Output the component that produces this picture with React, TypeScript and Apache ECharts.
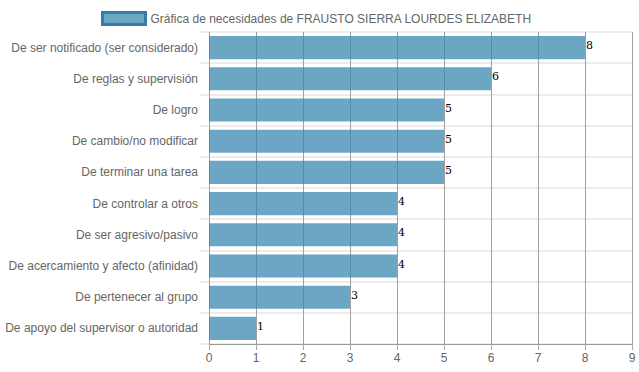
import React, { useEffect, useRef } from "react";
import * as echarts from "echarts";

const categories = [
  "De ser notificado (ser considerado)",
  "De reglas y supervisión",
  "De logro",
  "De cambio/no modificar",
  "De terminar una tarea",
  "De controlar a otros",
  "De ser agresivo/pasivo",
  "De acercamiento y afecto (afinidad)",
  "De pertenecer al grupo",
  "De apoyo del supervisor o autoridad",
];
const values = [8, 6, 5, 5, 5, 4, 4, 4, 3, 1];
const seriesName = "Gráfica de necesidades de FRAUSTO SIERRA LOURDES ELIZABETH";

export default function App() {
  const ref = useRef<HTMLDivElement>(null);
  useEffect(() => {
    if (!ref.current) return;
    const chart = echarts.init(ref.current, null, { renderer: "svg" });
    chart.setOption({
      animation: false,
      textStyle: { fontFamily: "Liberation Sans, Arial, sans-serif" },
      legend: {
        top: 6,
        left: 96,
        itemWidth: 43,
        itemHeight: 12,
        itemGap: 5,
        textStyle: { color: "#666", fontSize: 12 },
        data: [
          {
            name: seriesName,
            icon: "rect",
            itemStyle: { color: "rgba(59,136,178,0.75)", borderColor: "rgb(52,125,168)", borderWidth: 3 },
          },
        ],
      },
      grid: { left: 209, right: 7, top: 32, bottom: 28, containLabel: false },
      xAxis: {
        type: "value",
        min: 0,
        max: 9,
        interval: 1,
        axisLine: { show: true, lineStyle: { color: "#999" } },
        axisTick: { show: true, length: 6, lineStyle: { color: "#aaa" } },
        axisLabel: { color: "#666", fontSize: 12, margin: 8, showMaxLabel: true },
        splitLine: { show: true, lineStyle: { color: "#a0a0a0", width: 1 } },
      },
      yAxis: {
        type: "category",
        inverse: true,
        data: categories,
        axisLine: { show: false },
        axisTick: { show: true, length: 9, lineStyle: { color: "#ececec", width: 2 } },
        axisLabel: { color: "#666", fontSize: 12, margin: 11 },
        splitLine: { show: true, lineStyle: { color: "#ececec", width: 2 } },
      },
      series: [
        {
          name: seriesName,
          type: "bar",
          data: values,
          barCategoryGap: "26%",
          itemStyle: { color: "rgba(59,136,178,0.75)" },
          label: {
            show: true,
            position: "right",
            distance: 1,
            color: "#000",
            fontSize: 11,
            fontFamily: "DejaVu Serif, Liberation Serif, serif",
            offset: [0, -2],
          },
        },
      ],
    });
    return () => chart.dispose();
  }, []);
  return (
    <div
      ref={ref}
      style={{ position: "absolute", left: 0, top: 0, width: 639, height: 372 }}
    />
  );
}
